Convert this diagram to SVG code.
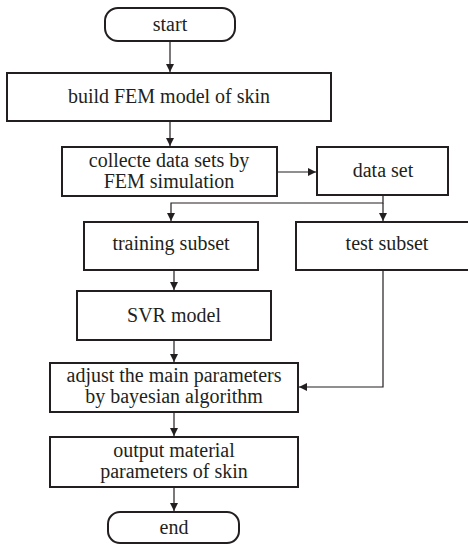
<svg xmlns="http://www.w3.org/2000/svg" width="468" height="544" viewBox="0 0 468 544">
<style>
.box{fill:#fff;stroke:#231f20;stroke-width:2}
.t{font-size:20px;fill:#231f20;text-anchor:middle}
.c{fill:none;stroke:#231f20;stroke-width:1.2}
</style>
<defs>
<marker id="ah" viewBox="0 0 10 10" refX="10" refY="5" markerWidth="8" markerHeight="8" markerUnits="userSpaceOnUse" orient="auto">
<path d="M0,0 L10,5 L0,10 z" fill="#231f20"/>
</marker>
</defs>
<rect width="468" height="544" fill="#fff"/>
<g id="connectors">
<path class="c" d="M170,42 V72" marker-end="url(#ah)"/>
<path class="c" d="M170,121 V146" marker-end="url(#ah)"/>
<path class="c" d="M277,172 H316" marker-end="url(#ah)"/>
<path class="c" d="M383,196 V203 H171 V221" marker-end="url(#ah)"/>
<path class="c" d="M383,203 V221" marker-end="url(#ah)"/>
<path class="c" d="M174,270 V290" marker-end="url(#ah)"/>
<path class="c" d="M174,340 V362" marker-end="url(#ah)"/>
<path class="c" d="M383,270 V387 H299" marker-end="url(#ah)"/>
<path class="c" d="M174,412 V436" marker-end="url(#ah)"/>
<path class="c" d="M174,487 V511" marker-end="url(#ah)"/>
</g>
<g font-family="Liberation Serif, Times New Roman, DejaVu Serif, serif">
<g id="start">
<rect class="box" x="105" y="8" width="130" height="33" rx="13"/>
<text class="t" x="170" y="31">start</text>
</g>
<g id="build">
<rect class="box" x="7" y="73" width="324" height="48"/>
<text class="t" x="169" y="103">build FEM model of skin</text>
</g>
<g id="collect">
<rect class="box" x="62" y="147" width="215" height="49"/>
<text class="t" x="169" y="167">collecte data sets by</text>
<text class="t" x="169" y="188">FEM simulation</text>
</g>
<g id="dataset">
<rect class="box" x="317" y="147" width="131" height="48"/>
<text class="t" x="383" y="177">data set</text>
</g>
<g id="training">
<rect class="box" x="84" y="222" width="174" height="48"/>
<text class="t" x="171" y="250">training subset</text>
</g>
<g id="test">
<rect class="box" x="296" y="222" width="174" height="48"/>
<text class="t" x="387" y="250">test subset</text>
</g>
<g id="svr">
<rect class="box" x="77" y="291" width="194" height="49"/>
<text class="t" x="174" y="322">SVR model</text>
</g>
<g id="adjust">
<rect class="box" x="50" y="363" width="248" height="49"/>
<text class="t" x="174" y="382">adjust the main parameters</text>
<text class="t" x="174" y="403">by bayesian algorithm</text>
</g>
<g id="output">
<rect class="box" x="50" y="437" width="248" height="50"/>
<text class="t" x="174" y="457">output material</text>
<text class="t" x="174" y="478">parameters of skin</text>
</g>
<g id="end">
<rect class="box" x="108" y="512" width="131" height="31" rx="12"/>
<text class="t" x="174" y="534">end</text>
</g>
</g>
</svg>
